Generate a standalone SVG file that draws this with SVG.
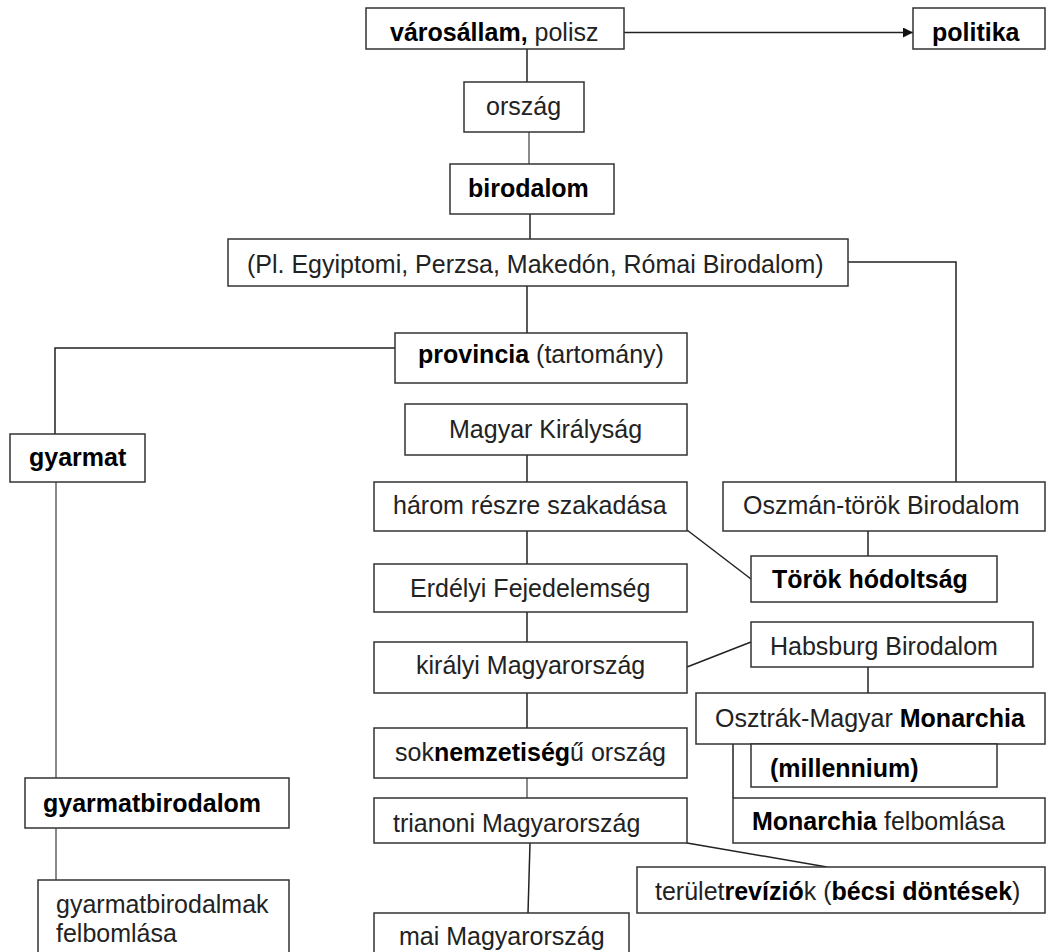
<svg xmlns="http://www.w3.org/2000/svg" width="1046" height="952" viewBox="0 0 1046 952">
<defs>
<marker id="arr" viewBox="0 0 10 10" refX="10" refY="5" markerWidth="11" markerHeight="10" markerUnits="userSpaceOnUse" orient="auto">
<path d="M0,0 L10,5 L0,10 z" fill="#111"/>
</marker>
<style>
.box{fill:#fff;stroke:#333;stroke-width:1.5}
.ln{fill:none;stroke:#222;stroke-width:1.5}
.gl{fill:none;stroke:#8a8a8a;stroke-width:2}
text{font-family:"Liberation Sans",Arial,sans-serif;font-size:25px;fill:#222}
.b{font-weight:bold;fill:#000}
</style>
</defs>
<rect width="1046" height="952" fill="#fff"/>
<g id="connectors">
<path class="ln" d="M624,32.5 H913" marker-end="url(#arr)"/>
<path class="ln" d="M527,49 V82"/>
<path class="gl" d="M529,132 V164"/>
<path class="ln" d="M530,214 V239"/>
<path class="ln" d="M848,262 H956 V482"/>
<path class="ln" d="M527,286 V333"/>
<path class="ln" d="M395,348 H55 V434"/>
<path class="gl" d="M56,482 V778"/>
<path class="gl" d="M56,828 V880"/>
<path class="ln" d="M527,455 V482"/>
<path class="ln" d="M527,531 V564"/>
<path class="ln" d="M687,530 L751,579"/>
<path class="ln" d="M527,612 V642"/>
<path class="ln" d="M868,531 V556"/>
<path class="ln" d="M687,667 L751,642"/>
<path class="ln" d="M868,667 V693"/>
<path class="ln" d="M527,693 V728"/>
<path class="ln" d="M733,744 V798"/>
<path class="gl" d="M527,778 V798"/>
<path class="ln" d="M687,843 L827,867"/>
<path class="ln" d="M530,843 L528,913"/>
</g>
<g id="varosallam"><rect class="box" x="366" y="8" width="258" height="41"/><text x="390" y="40.5"><tspan class="b">városállam,</tspan> polisz</text></g>
<g id="politika"><rect class="box" x="913" y="8" width="132" height="41"/><text class="b" x="932" y="40.5">politika</text></g>
<g id="orszag"><rect class="box" x="464" y="82" width="120" height="50"/><text x="486" y="115">ország</text></g>
<g id="birodalom"><rect class="box" x="450" y="164" width="164" height="50"/><text class="b" x="468" y="197">birodalom</text></g>
<g id="peldak"><rect class="box" x="228" y="239" width="620" height="47"/><text x="247" y="273">(Pl. Egyiptomi, Perzsa, Makedón, Római Birodalom)</text></g>
<g id="provincia"><rect class="box" x="395" y="333" width="292" height="50"/><text x="418" y="363"><tspan class="b">provincia</tspan> (tartomány)</text></g>
<g id="gyarmat"><rect class="box" x="10" y="434" width="135" height="48"/><text class="b" x="29" y="466">gyarmat</text></g>
<g id="magyar-kiralysag"><rect class="box" x="405" y="404" width="282" height="51"/><text x="449" y="438">Magyar Királyság</text></g>
<g id="harom-reszre"><rect class="box" x="374" y="482" width="313" height="49"/><text x="393" y="514">három részre szakadása</text></g>
<g id="erdelyi"><rect class="box" x="374" y="564" width="313" height="48"/><text x="410" y="597">Erdélyi Fejedelemség</text></g>
<g id="kiralyi"><rect class="box" x="374" y="642" width="313" height="51"/><text x="416" y="674">királyi Magyarország</text></g>
<g id="soknemzetisegu"><rect class="box" x="374" y="728" width="313" height="50"/><text x="395" y="761">sok<tspan class="b">nemzetiség</tspan>ű ország</text></g>
<g id="trianoni"><rect class="box" x="374" y="798" width="313" height="45"/><text x="393" y="831.5">trianoni Magyarország</text></g>
<g id="mai"><rect class="box" x="374" y="913" width="255" height="60"/><text x="399" y="945">mai Magyarország</text></g>
<g id="teruletreviziok"><rect class="box" x="637" y="867" width="408" height="46"/><text x="655" y="900">terület<tspan class="b">revízió</tspan>k (<tspan class="b">bécsi döntések</tspan>)</text></g>
<g id="oszman"><rect class="box" x="723" y="482" width="322" height="49"/><text x="743" y="514">Oszmán-török Birodalom</text></g>
<g id="torok-hodoltsag"><rect class="box" x="751" y="556" width="246" height="46"/><text class="b" x="772" y="588">Török hódoltság</text></g>
<g id="habsburg"><rect class="box" x="751" y="622" width="282" height="45"/><text x="770" y="655">Habsburg Birodalom</text></g>
<g id="osztrak-magyar"><rect class="box" x="696" y="693" width="349" height="51"/><text x="715" y="726.5">Osztrák-Magyar <tspan class="b">Monarchia</tspan></text></g>
<g id="millennium"><rect class="box" x="751" y="744" width="246" height="43"/><text class="b" x="770" y="776.5">(millennium)</text></g>
<g id="monarchia-felbomlasa"><rect class="box" x="733" y="798" width="312" height="45"/><text x="752" y="830"><tspan class="b">Monarchia</tspan> felbomlása</text></g>
<g id="gyarmatbirodalom"><rect class="box" x="25" y="778" width="264" height="50"/><text class="b" x="43" y="811.5">gyarmatbirodalom</text></g>
<g id="gyarmatbirodalmak"><rect class="box" x="38" y="880" width="251" height="90"/><text x="56" y="913">gyarmatbirodalmak</text><text x="56" y="941.5">felbomlása</text></g>
</svg>
